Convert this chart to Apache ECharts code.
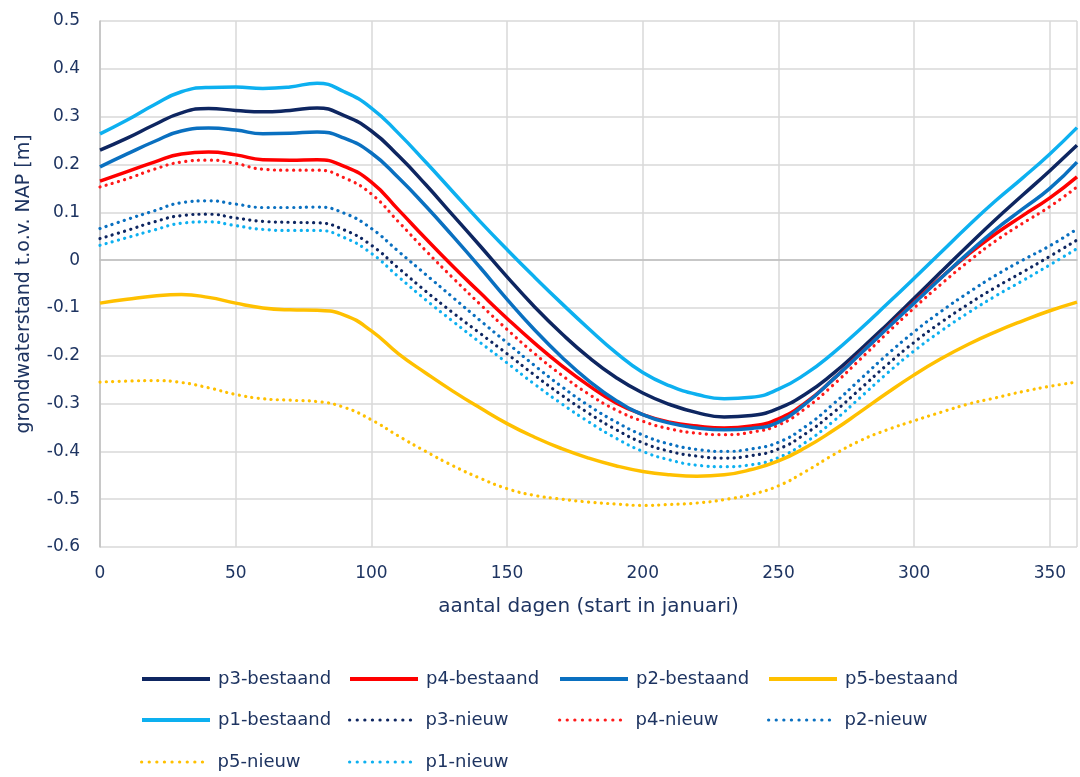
<!DOCTYPE html>
<html>
<head>
<meta charset="utf-8">
<script src="https://cdn.jsdelivr.net/npm/echarts@6/dist/echarts.min.js"></script>
<style>html,body{margin:0;padding:0;background:#fff}#c{width:1080px;height:777px}</style>
</head>
<body>
<div id="c"></div>
<script>
const days = [0,10,20,30,40,50,60,70,80,90,100,110,120,130,140,150,160,170,180,190,200,210,220,230,240,250,260,270,280,290,300,310,320,330,340,350,360];
const yTicks = [-0.6,-0.5,-0.4,-0.3,-0.2,-0.1,0,0.1,0.2,0.3,0.4,0.5];
const xTicks = [0,50,100,150,200,250,300,350];

const p3Bestaand = [0.230,0.255,0.283,0.308,0.317,0.313,0.310,0.313,0.318,0.302,0.270,0.218,0.158,0.094,0.030,-0.035,-0.097,-0.153,-0.203,-0.245,-0.278,-0.302,-0.319,-0.328,-0.325,-0.310,-0.280,-0.238,-0.188,-0.135,-0.080,-0.024,0.031,0.085,0.136,0.187,0.240];
const p4Bestaand = [0.165,0.185,0.205,0.222,0.226,0.220,0.210,0.209,0.210,0.196,0.163,0.105,0.045,-0.013,-0.068,-0.122,-0.173,-0.220,-0.262,-0.298,-0.323,-0.339,-0.347,-0.351,-0.347,-0.332,-0.298,-0.250,-0.196,-0.142,-0.088,-0.036,0.012,0.055,0.093,0.130,0.174];
const p2Bestaand = [0.195,0.222,0.248,0.270,0.276,0.272,0.264,0.265,0.268,0.255,0.224,0.172,0.113,0.050,-0.015,-0.082,-0.145,-0.202,-0.252,-0.293,-0.323,-0.341,-0.351,-0.355,-0.352,-0.339,-0.300,-0.250,-0.197,-0.143,-0.090,-0.037,0.015,0.064,0.107,0.150,0.205];
const p5Bestaand = [-0.090,-0.082,-0.075,-0.072,-0.078,-0.090,-0.100,-0.104,-0.105,-0.115,-0.148,-0.196,-0.236,-0.274,-0.309,-0.342,-0.370,-0.394,-0.414,-0.430,-0.442,-0.449,-0.452,-0.449,-0.438,-0.420,-0.392,-0.357,-0.318,-0.278,-0.240,-0.206,-0.176,-0.150,-0.127,-0.106,-0.088];
const p1Bestaand = [0.264,0.293,0.325,0.352,0.361,0.362,0.359,0.362,0.370,0.352,0.318,0.265,0.205,0.143,0.081,0.022,-0.035,-0.090,-0.143,-0.193,-0.235,-0.263,-0.281,-0.290,-0.287,-0.270,-0.238,-0.195,-0.145,-0.092,-0.038,0.017,0.072,0.124,0.172,0.222,0.277];
const p3Nieuw = [0.045,0.062,0.080,0.093,0.096,0.088,0.081,0.079,0.078,0.063,0.031,-0.017,-0.065,-0.110,-0.153,-0.196,-0.240,-0.282,-0.320,-0.354,-0.382,-0.400,-0.410,-0.414,-0.409,-0.395,-0.363,-0.320,-0.270,-0.219,-0.172,-0.130,-0.092,-0.057,-0.025,0.008,0.042];
const p4Nieuw = [0.153,0.170,0.190,0.205,0.209,0.202,0.190,0.188,0.188,0.172,0.138,0.080,0.020,-0.037,-0.092,-0.145,-0.195,-0.240,-0.280,-0.313,-0.337,-0.353,-0.362,-0.365,-0.360,-0.345,-0.310,-0.262,-0.208,-0.153,-0.100,-0.050,-0.003,0.040,0.077,0.112,0.153];
const p2Nieuw = [0.066,0.085,0.103,0.120,0.124,0.117,0.110,0.110,0.111,0.098,0.066,0.018,-0.030,-0.078,-0.126,-0.173,-0.220,-0.264,-0.304,-0.338,-0.366,-0.385,-0.396,-0.400,-0.395,-0.381,-0.348,-0.302,-0.250,-0.198,-0.150,-0.107,-0.068,-0.032,0.000,0.030,0.065];
const p5Nieuw = [-0.255,-0.253,-0.252,-0.256,-0.267,-0.281,-0.290,-0.293,-0.296,-0.308,-0.334,-0.368,-0.400,-0.430,-0.456,-0.478,-0.492,-0.500,-0.506,-0.510,-0.513,-0.511,-0.508,-0.501,-0.490,-0.472,-0.442,-0.408,-0.378,-0.355,-0.336,-0.318,-0.301,-0.288,-0.275,-0.264,-0.255];
const p1Nieuw = [0.031,0.047,0.063,0.077,0.080,0.072,0.064,0.062,0.062,0.047,0.014,-0.035,-0.083,-0.128,-0.172,-0.215,-0.259,-0.300,-0.338,-0.372,-0.400,-0.418,-0.429,-0.432,-0.428,-0.413,-0.381,-0.338,-0.288,-0.237,-0.190,-0.148,-0.110,-0.075,-0.043,-0.010,0.024];

const names = ['p3-bestaand','p4-bestaand','p2-bestaand','p5-bestaand','p1-bestaand','p3-nieuw','p4-nieuw','p2-nieuw','p5-nieuw','p1-nieuw'];
const values = [p3Bestaand,p4Bestaand,p2Bestaand,p5Bestaand,p1Bestaand,p3Nieuw,p4Nieuw,p2Nieuw,p5Nieuw,p1Nieuw];
const colors = ['#0E2661','#FF0000','#0A70C0','#FFC000','#0DB0F0','#0E2661','#FF1A1A','#0A70C0','#FFC000','#0DB0F0'];
const dotted = [false,false,false,false,false,true,true,true,true,true];

const txt = '#1E3461';
const font = 'DejaVu Sans';

const series = names.map((n,i)=>({
  name: n,
  type: 'line',
  smooth: 0.5,
  symbol: 'none',
  data: days.map((d,j)=>[d, values[i][j]]),
  lineStyle: dotted[i]
    ? {color: colors[i], width: 3.2, type: [0.1, 6.3], cap: 'round'}
    : {color: colors[i], width: 3.5},
  itemStyle: {color: colors[i]},
  z: dotted[i] ? 2 : 3
}));

const colLeft = [140, 348, 558, 767];
const rowTop = [670, 711, 753];
const legends = names.map((n,i)=>({
  data: [n],
  left: colLeft[i % 4],
  top: rowTop[Math.floor(i / 4)],
  itemWidth: 68,
  itemHeight: 16,
  itemGap: 0,
  padding: 0,
  itemStyle: {opacity: 0},
  lineStyle: dotted[i] ? {width: 3.2, type: [0.1, 7.5], cap: 'round'} : {width: 4},
  textStyle: {color: txt, fontFamily: font, fontSize: 18, padding: [0,0,0,3]},
  selectedMode: false
}));

const chart = echarts.init(document.getElementById('c'));
chart.setOption({
  animation: false,
  backgroundColor: '#fff',
  grid: {left: 100, right: 2, top: 21, bottom: 230},
  legend: legends,
  xAxis: {
    type: 'value', min: 0, max: 360, interval: 50,
    name: 'aantal dagen (start in januari)', nameLocation: 'middle', nameGap: 50,
    nameTextStyle: {color: txt, fontFamily: font, fontSize: 20},
    axisLine: {show: true, lineStyle: {color: '#BFBFBF', width: 1.5}},
    axisTick: {show: false},
    axisLabel: {color: txt, fontFamily: font, fontSize: 17, margin: 18,
      formatter: v => xTicks.includes(v) ? String(v) : ''},
    splitLine: {show: true, lineStyle: {color: '#D9D9D9', width: 1.5}}
  },
  yAxis: {
    type: 'value', min: -0.6, max: 0.5, interval: 0.1,
    name: 'grondwaterstand t.o.v. NAP [m]', nameLocation: 'middle', nameGap: 66,
    nameTextStyle: {color: txt, fontFamily: font, fontSize: 19},
    axisLine: {show: true, lineStyle: {color: '#BFBFBF', width: 1.5}},
    axisTick: {show: false},
    axisLabel: {color: txt, fontFamily: font, fontSize: 17, margin: 20,
      formatter: v => { const t = yTicks.find(k => Math.abs(k - v) < 1e-6); return t === undefined ? '' : (Math.round(t*10)/10).toString(); }},
    splitLine: {show: true, lineStyle: {color: '#D9D9D9', width: 1.5}}
  },
  series: series
});
</script>
</body>
</html>
